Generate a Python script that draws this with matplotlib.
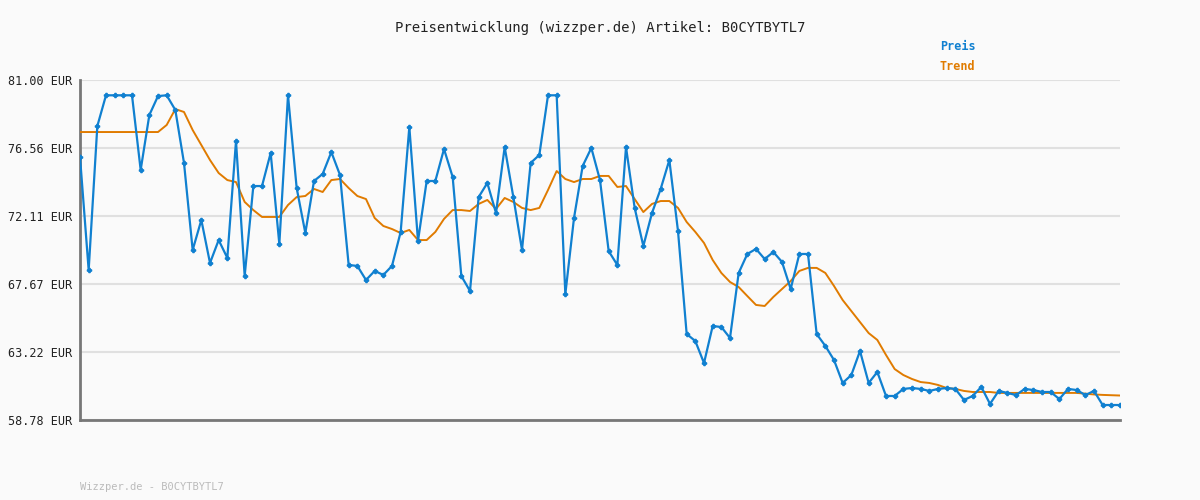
import matplotlib
matplotlib.use("Agg")
import matplotlib.pyplot as plt
import numpy as np

preis = [75.97, 68.58, 77.99, 80.0, 80.0, 80.0, 80.0, 75.12, 78.71, 79.95,
         80.0, 79.04, 75.58, 69.89, 71.85, 69.04, 70.54, 69.37, 77.01, 68.19,
         74.07, 74.07, 76.23, 70.28, 80.0, 73.94, 71.0, 74.40, 74.86, 76.29,
         74.79, 68.91, 68.85, 67.93, 68.52, 68.26, 68.85, 71.07, 77.93, 70.48,
         74.40, 74.40, 76.49, 74.66, 68.19, 67.21, 73.35, 74.27, 72.31, 76.62,
         73.35, 69.89, 75.58, 76.10, 80.0, 80.0, 67.01, 71.98, 75.38, 76.56,
         74.46, 69.82, 68.91, 76.62, 72.64, 70.15, 72.31, 73.88, 75.77, 71.13,
         64.40, 63.94, 62.50, 64.92, 64.86, 64.14, 68.39, 69.63, 69.96, 69.30,
         69.76, 69.11, 67.34, 69.63, 69.63, 64.40, 63.62, 62.70, 61.20, 61.72,
         63.29, 61.20, 61.92, 60.35, 60.35, 60.81, 60.87, 60.81, 60.68, 60.81,
         60.87, 60.81, 60.09, 60.35, 60.94, 59.83, 60.68, 60.55, 60.41, 60.81,
         60.74, 60.61, 60.61, 60.15, 60.81, 60.74, 60.41, 60.68, 59.76, 59.76, 59.76]

trend = [77.60]*10 + [78.06, 79.10, 78.91, 77.73, 76.75, 75.77, 74.92, 74.46, 74.33, 73.03,
         72.50, 72.05, 72.05, 72.05, 72.83, 73.35, 73.42, 73.88, 73.68, 74.46,
         74.53, 73.94, 73.42, 73.22, 71.98, 71.46, 71.26, 71.00, 71.20, 70.54,
         70.54, 71.07, 71.92, 72.50, 72.50, 72.44, 72.90, 73.16, 72.57, 73.29,
         73.03, 72.64, 72.50, 72.64, 73.81, 75.05, 74.53, 74.33, 74.53, 74.53,
         74.73, 74.73, 74.01, 74.07, 73.22, 72.37, 72.90, 73.09, 73.09, 72.64,
         71.72, 71.07, 70.35, 69.24, 68.39, 67.80, 67.47, 66.88, 66.30, 66.23,
         66.82, 67.34, 67.86, 68.52, 68.72, 68.72, 68.39, 67.54, 66.62, 65.90,
         65.18, 64.46, 64.01, 63.03, 62.11, 61.72, 61.46, 61.26, 61.20, 61.07,
         60.87, 60.81, 60.68, 60.61, 60.61, 60.61, 60.55, 60.55, 60.55, 60.55,
         60.55, 60.55, 60.55, 60.55, 60.55, 60.55, 60.50, 60.45, 60.42, 60.40, 60.38]

yticks = [58.78, 63.22, 67.67, 72.11, 76.56, 81.00]
ytick_labels = ["58.78 EUR", "63.22 EUR", "67.67 EUR", "72.11 EUR", "76.56 EUR", "81.00 EUR"]

plt.rcParams['font.family'] = ['DejaVu Sans Mono']
bg = '#fafafa'
fig = plt.figure(figsize=(12, 5), dpi=100, facecolor=bg)
ax = fig.add_axes([80/1200, 0.16, 1040/1200, 0.68], facecolor=bg)

x = np.arange(len(preis))
ax.plot(x, trend, color='#e07b00', lw=1.4, zorder=3)
ax.plot(x, preis, color='#1080d0', lw=1.6, marker='P', ms=3, zorder=4)

ax.set_xlim(0, len(preis)-1)
ax.set_ylim(58.78, 81.00)
ax.set_yticks(yticks)
ax.set_yticklabels(ytick_labels, fontsize=8.5, color='#222222')
ax.set_xticks([])
ax.grid(axis='y', color='#e0e0e0', lw=1.5)
ax.set_axisbelow(True)
for s in ['top', 'right']:
    ax.spines[s].set_visible(False)
ax.spines['left'].set_color('#777777')
ax.spines['bottom'].set_color('#777777')
ax.spines['left'].set_linewidth(2)
ax.spines['bottom'].set_linewidth(2)
ax.tick_params(axis='y', length=0, pad=6)

fig.text(0.5, 1-28/500, "Preisentwicklung (wizzper.de) Artikel: B0CYTBYTL7",
         ha='center', va='center', fontsize=10, color='#222222')
fig.text(940/1200, 1-47/500, "Preis", color='#1080d0', fontsize=8.5, fontweight='bold', va='center')
fig.text(940/1200, 1-67/500, "Trend", color='#e07b00', fontsize=8.5, fontweight='bold', va='center')
fig.text(80/1200, 1-487/500, "Wizzper.de - B0CYTBYTL7", color='#bbbbbb', fontsize=7.5, va='center')

fig.savefig("out.png", dpi=100, facecolor=bg)
